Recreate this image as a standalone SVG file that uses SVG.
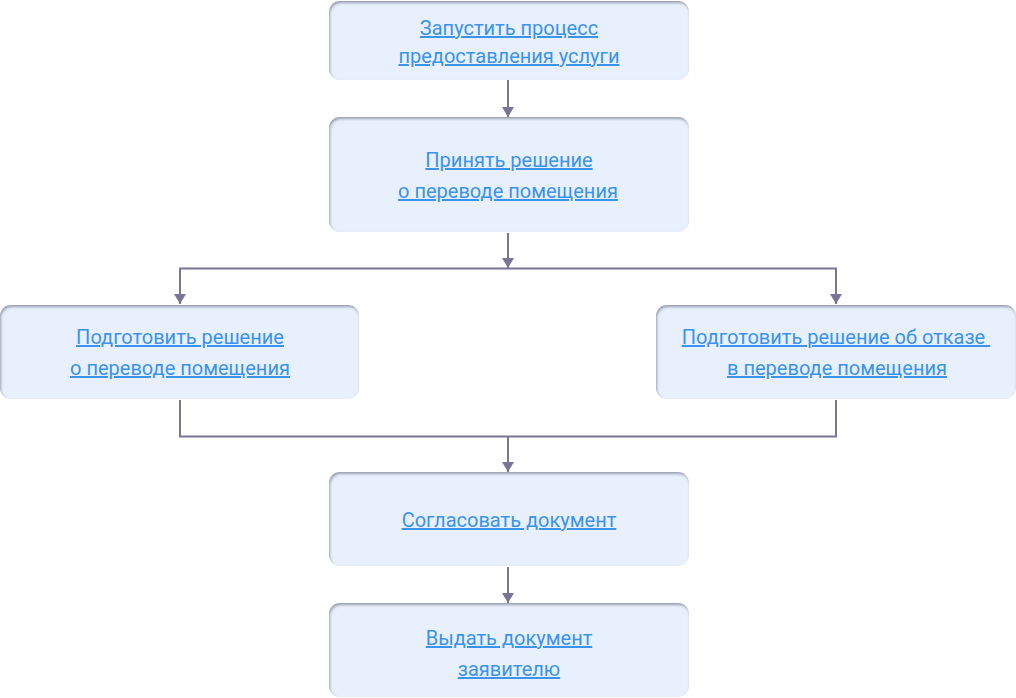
<svg xmlns="http://www.w3.org/2000/svg" width="1016" height="698" viewBox="0 0 1016 698">
  <style>
    .box { fill: #e8f0fd; filter: url(#inset); }
    .lbl { font-family: Roboto, "Liberation Sans", sans-serif; font-size: 20px; fill: #3a93ef; text-anchor: middle; text-decoration: underline; }
    .con { fill: none; stroke: #7a7597; stroke-width: 2; }
    .arr { marker-end: url(#ah); }
  </style>
  <defs>
    <filter id="inset" x="-5%" y="-10%" width="110%" height="120%">
      <feFlood flood-color="#8e96a8" result="f"/>
      <feComposite in="f" in2="SourceAlpha" operator="out" result="o"/>
      <feGaussianBlur in="o" stdDeviation="1.6" result="b"/>
      <feOffset in="b" dx="1" dy="2" result="s"/>
      <feComposite in="s" in2="SourceAlpha" operator="in" result="sh"/>
      <feMerge>
        <feMergeNode in="SourceGraphic"/>
        <feMergeNode in="sh"/>
      </feMerge>
    </filter>
    <marker id="ah" markerUnits="userSpaceOnUse" markerWidth="10" markerHeight="12" refX="10" refY="6" orient="auto" viewBox="0 0 10 12">
      <path d="M0,0 L10,6 L0,12 Z" fill="#7a7597"/>
    </marker>
  </defs>

  <g id="connectors">
    <path class="con arr" d="M508,80 V117"/>
    <path class="con arr" d="M508,233 V268"/>
    <path class="con" d="M179,268.5 H837"/>
    <path class="con arr" d="M180,268 V304"/>
    <path class="con arr" d="M836,268 V304"/>
    <path class="con" d="M180,400 V436.5 H836 V400"/>
    <path class="con arr" d="M508,436 V472"/>
    <path class="con arr" d="M508,567 V603"/>
  </g>

  <g id="n1">
    <rect class="box" x="329" y="1" width="360" height="79" rx="11"/>
    <text class="lbl" x="509" y="35">Запустить процесс</text>
    <text class="lbl" x="509" y="63">предоставления услуги</text>
  </g>
  <g id="n2">
    <rect class="box" x="329" y="117" width="360" height="115" rx="11"/>
    <text class="lbl" x="509" y="167">Принять решение</text>
    <text class="lbl" x="508" y="198">о переводе помещения</text>
  </g>
  <g id="n3">
    <rect class="box" x="0" y="305" width="359" height="94" rx="11"/>
    <text class="lbl" x="180" y="344">Подготовить решение</text>
    <text class="lbl" x="180" y="375">о переводе помещения</text>
  </g>
  <g id="n4">
    <rect class="box" x="656" y="305" width="360" height="94" rx="11"/>
    <text class="lbl" x="836" y="344" xml:space="preserve">Подготовить решение об отказе </text>
    <text class="lbl" x="837" y="375">в переводе помещения</text>
  </g>
  <g id="n5">
    <rect class="box" x="329" y="472" width="360" height="94" rx="11"/>
    <text class="lbl" x="509" y="527">Согласовать документ</text>
  </g>
  <g id="n6">
    <rect class="box" x="329" y="603" width="360" height="94" rx="11"/>
    <text class="lbl" x="509" y="645">Выдать документ</text>
    <text class="lbl" x="509" y="676">заявителю</text>
  </g>
</svg>
